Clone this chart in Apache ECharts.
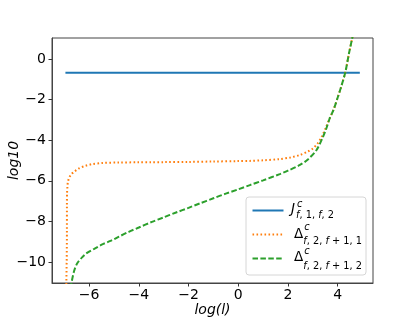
<!DOCTYPE html>
<html>
<head>
<meta charset="utf-8">
<script src="https://cdn.jsdelivr.net/npm/echarts@6/dist/echarts.min.js"></script>
<style>
html,body{margin:0;padding:0;background:#fff;}
#chart{width:415px;height:318px;}
</style>
</head>
<body>
<div id="chart"></div>
<script>
// ---- data ----
var xTicks = [-6, -4, -2, 0, 2, 4];
var yTicks = [-10, -8, -6, -4, -2, 0];

var blueX = [-6.95, 4.89];
var blueY = [-0.68, -0.68];

var orangeX = [-6.92, -6.9, -6.89, -6.89, -6.885, -6.87, -6.85, -6.79, -6.71, -6.6, -6.41, -6.14, -5.88, -5.47, -4.8, -4.0, -3.5, -3.0, -2.0, -1.0, 0.0, 0.47, 1.0, 1.67, 2.1, 2.48, 2.8, 3.01, 3.2, 3.35, 3.5, 3.68, 3.84, 4.0, 4.15, 4.31, 4.46, 4.59, 4.7];
var orangeY = [-11.5, -10.0, -8.5, -7.2, -6.6, -6.3, -6.05, -5.83, -5.67, -5.56, -5.39, -5.26, -5.18, -5.12, -5.1, -5.09, -5.09, -5.08, -5.07, -5.05, -5.03, -5.02, -4.99, -4.93, -4.85, -4.73, -4.56, -4.4, -4.15, -3.85, -3.45, -2.92, -2.48, -1.9, -1.33, -0.64, 0.31, 1.05, 1.7];

var greenX = [-6.74, -6.71, -6.61, -6.48, -6.28, -6.08, -5.81, -5.47, -5.14, -4.8, -4.4, -4.0, -3.47, -3.0, -2.5, -2.0, -1.54, -1.0, -0.5, 0.0, 0.47, 1.0, 1.67, 2.0, 2.48, 2.8, 3.15, 3.41, 3.55, 3.68, 3.84, 4.0, 4.15, 4.31, 4.46, 4.59, 4.7];
var greenY = [-11.3, -11.05, -10.48, -10.07, -9.77, -9.55, -9.36, -9.13, -8.96, -8.75, -8.51, -8.3, -8.02, -7.8, -7.56, -7.33, -7.11, -6.86, -6.63, -6.42, -6.21, -5.98, -5.67, -5.5, -5.22, -4.95, -4.48, -3.83, -3.4, -2.92, -2.48, -1.9, -1.33, -0.64, 0.31, 1.05, 1.7];

var names = ['J', 'D1', 'D2'];
var mainSymbols = ['J', '\u0394', '\u0394'];
var supText = 'c';
var subTexts = ['{i|f}{n|, 1, }{i|f}{n|, 2}', '{i|f}{n|, 2, }{i|f}{n| + 1, 1}', '{i|f}{n|, 2, }{i|f}{n| + 1, 2}'];

function zip(xs, ys) { return xs.map(function (x, i) { return [x, ys[i]]; }); }
function fmt(v) { return v < 0 ? '\u2212' + Math.abs(v) : String(v); }

var FONT = 'DejaVu Sans';
var chart = echarts.init(document.getElementById('chart'), null, {renderer: 'canvas'});

var subRich = {
  i: {fontFamily: FONT, fontStyle: 'italic', fontSize: 9.8, color: '#000'},
  n: {fontFamily: FONT, fontSize: 9.8, color: '#000'}
};

// legend label layout (pixel positions of the text pieces inside the legend box)
var mainPos = [[291, 209.8, true], [294, 234.0, false], [294, 257.6, false]];
var supPos = [[297, 204.6], [304.3, 227.9], [304.3, 251.9]];
var subPos = [[296, 215.3], [303.3, 241.3], [303.3, 266.3]];

var graphics = [];
for (var k = 0; k < 3; k++) {
  graphics.push({type: 'text', x: mainPos[k][0], y: mainPos[k][1], z: 100,
    style: {text: mainSymbols[k], fontFamily: FONT, fontStyle: mainPos[k][2] ? 'italic' : 'normal', fontSize: 13.5, fill: '#000', align: 'left', verticalAlign: 'middle'}});
  graphics.push({type: 'text', x: supPos[k][0], y: supPos[k][1], z: 100,
    style: {text: supText, fontFamily: FONT, fontStyle: 'italic', fontSize: 9.8, fill: '#000', align: 'left', verticalAlign: 'middle'}});
  graphics.push({type: 'text', x: subPos[k][0], y: subPos[k][1], z: 100,
    style: {text: subTexts[k], rich: subRich, fill: '#000', align: 'left', verticalAlign: 'middle'}});
}

var option = {
  animation: false,
  backgroundColor: '#fff',
  grid: {left: 52, top: 38, width: 321, height: 245, containLabel: false, outerBoundsMode: 'none',
         show: true, borderColor: '#444', borderWidth: 1, backgroundColor: 'transparent'},
  xAxis: {
    type: 'value', min: -7.49, max: 5.42,
    name: 'log(l)', nameLocation: 'middle', nameGap: 20, nameMoveOverlap: false,
    nameTextStyle: {fontFamily: FONT, fontStyle: 'italic', fontSize: 14, color: '#000'},
    axisLine: {show: true, onZero: false, lineStyle: {color: '#444', width: 1}},
    axisTick: {show: true, inside: false, length: 3.5, lineStyle: {color: '#333', width: 1}, customValues: xTicks},
    axisLabel: {show: true, margin: 5, fontFamily: FONT, fontSize: 14, color: '#000', formatter: fmt, customValues: xTicks},
    splitLine: {show: false}
  },
  yAxis: {
    type: 'value', min: -11.03, max: 1.03,
    name: 'log10', nameLocation: 'middle', nameGap: 31, nameMoveOverlap: false,
    nameTextStyle: {fontFamily: FONT, fontStyle: 'italic', fontSize: 14, color: '#000'},
    axisLine: {show: true, onZero: false, lineStyle: {color: '#444', width: 1}},
    axisTick: {show: true, inside: false, length: 3.5, lineStyle: {color: '#333', width: 1}, customValues: yTicks},
    axisLabel: {show: true, margin: 6, fontFamily: FONT, fontSize: 14, color: '#000', formatter: fmt, customValues: yTicks},
    splitLine: {show: false}
  },
  legend: {
    orient: 'vertical', left: 246, top: 197, z: 10,
    padding: [2.5, 5, 5.5, 5.5], itemGap: 2,
    itemWidth: 31, itemHeight: 14,
    borderColor: '#d6d6d6', borderWidth: 1, borderRadius: 3,
    backgroundColor: 'rgba(255,255,255,0.8)',
    itemStyle: {opacity: 0, color: 'rgba(0,0,0,0)', borderWidth: 0},
    data: names,
    formatter: function () { return '{w| }'; },
    textStyle: {rich: {w: {width: 72.5, height: 22, lineHeight: 22, fontSize: 10}}}
  },
  graphic: graphics,
  series: [
    {name: 'J', type: 'line', data: zip(blueX, blueY), showSymbol: false, symbol: 'none',
     lineStyle: {color: '#1f77b4', width: 2}, itemStyle: {color: '#1f77b4'}, clip: true, z: 3},
    {name: 'D1', type: 'line', data: zip(orangeX, orangeY), showSymbol: false, symbol: 'none', smooth: 0.3,
     lineStyle: {color: '#ff7f0e', width: 2, type: [1.6, 2.4], cap: 'butt'}, itemStyle: {color: '#ff7f0e'}, clip: true, z: 4},
    {name: 'D2', type: 'line', data: zip(greenX, greenY), showSymbol: false, symbol: 'none', smooth: 0.3,
     lineStyle: {color: '#2ca02c', width: 2, type: [5.5, 2.4], cap: 'butt'}, itemStyle: {color: '#2ca02c'}, clip: true, z: 5}
  ]
};
chart.setOption(option);
</script>
</body>
</html>
